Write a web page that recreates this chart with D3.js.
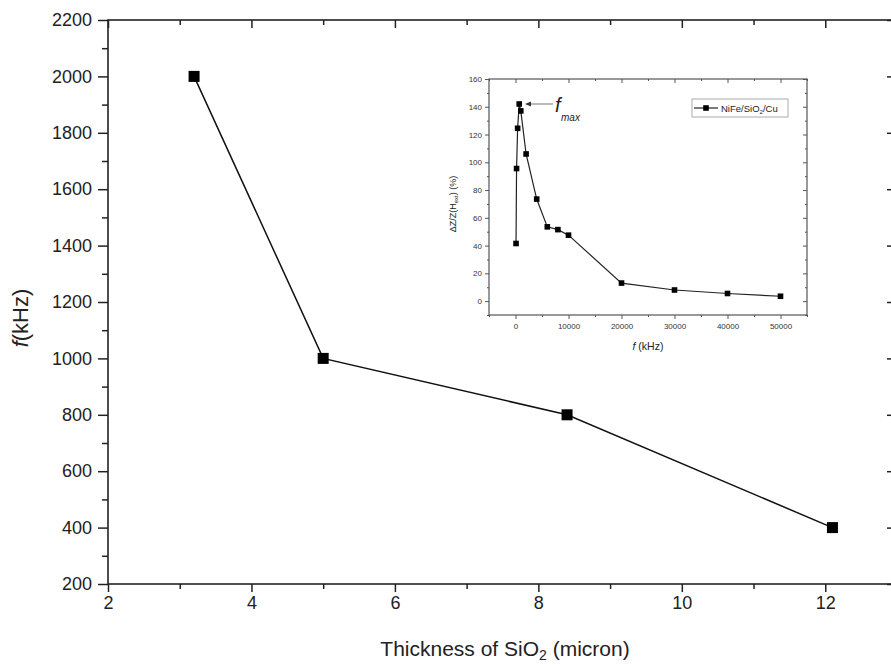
<html>
<head>
  <script src="https://d3js.org/d3.v7.min.js"></script>
  <style>
    body { margin: 0; background: #fff; }
    text { font-family: "Liberation Sans", Arial, sans-serif; fill: #222; }
  </style>
</head>
<body>
<svg width="891" height="665"></svg>
<script>
  // main chart data
  var thickness = [3.2, 5, 8.4, 12.1];
  var freqMax = [2000, 1000, 800, 400];
  var xMajor = [2, 4, 6, 8, 10, 12];
  var xMinor = [3, 5, 7, 9, 11, 13];
  var yMajor = [200, 400, 600, 800, 1000, 1200, 1400, 1600, 1800, 2000, 2200];
  var yMinor = [300, 500, 700, 900, 1100, 1300, 1500, 1700, 1900, 2100];

  // inset data
  var insetFreq = [100, 200, 400, 700, 1000, 2000, 4000, 6000, 8000, 10000, 20000, 30000, 40000, 50000];
  var insetDZ = [41.5, 95.5, 124.5, 142, 137, 106, 73.5, 53.5, 51.5, 47.5, 13, 8, 5.5, 3.5];
  var insetXMajor = [0, 10000, 20000, 30000, 40000, 50000];
  var insetXMinor = [-5000, 5000, 15000, 25000, 35000, 45000, 55000];
  var insetYMajor = [0, 20, 40, 60, 80, 100, 120, 140, 160];
  var insetYMinor = [-10, 10, 30, 50, 70, 90, 110, 130, 150];

  var svg = d3.select("svg");
  var axisColor = "#222";

  var x = d3.scaleLinear().domain([2, 13]).range([108, 897]);
  var y = d3.scaleLinear().domain([200, 2200]).range([584, 20]);

  function styleAxis(g) {
    g.select(".domain").remove();
    g.selectAll("line").attr("stroke", axisColor).attr("stroke-width", 1.5);
    g.selectAll("text").attr("font-size", 18);
  }

  // bottom axis
  svg.append("g").attr("transform", "translate(0,584)")
    .call(d3.axisBottom(x).tickValues(xMajor).tickSize(8).tickPadding(4).tickSizeOuter(0))
    .call(styleAxis);
  svg.append("g").attr("transform", "translate(0,584)")
    .call(d3.axisBottom(x).tickValues(xMinor).tickSize(5).tickFormat("").tickSizeOuter(0))
    .call(styleAxis);

  // top axis, ticks pointing in
  svg.append("g").attr("transform", "translate(0,20)")
    .call(d3.axisBottom(x).tickValues(xMajor).tickSize(8).tickFormat("").tickSizeOuter(0))
    .call(styleAxis);
  svg.append("g").attr("transform", "translate(0,20)")
    .call(d3.axisBottom(x).tickValues(xMinor).tickSize(5).tickFormat("").tickSizeOuter(0))
    .call(styleAxis);

  // left axis
  svg.append("g").attr("transform", "translate(108,0)")
    .call(d3.axisLeft(y).tickValues(yMajor).tickSize(10).tickPadding(6).tickFormat(d3.format("d")).tickSizeOuter(0))
    .call(styleAxis);
  svg.append("g").attr("transform", "translate(108,0)")
    .call(d3.axisLeft(y).tickValues(yMinor).tickSize(6).tickFormat("").tickSizeOuter(0))
    .call(styleAxis);

  // right axis, ticks pointing in
  svg.append("g").attr("transform", "translate(897,0)")
    .call(d3.axisLeft(y).tickValues(yMajor).tickSize(10).tickFormat("").tickSizeOuter(0))
    .call(styleAxis);

  // frame
  svg.append("rect").attr("x", 108).attr("y", 20).attr("width", 789).attr("height", 564)
    .attr("fill", "none").attr("stroke", axisColor).attr("stroke-width", 1.6);

  var mainPts = thickness.map(function(d, i) { return [d, freqMax[i]]; });
  var line = d3.line().x(function(d) { return x(d[0]); }).y(function(d) { return y(d[1]); });
  svg.append("path").datum(mainPts).attr("d", line)
    .attr("fill", "none").attr("stroke", "#111").attr("stroke-width", 1.5);
  svg.selectAll(".mainpt").data(mainPts).enter().append("rect")
    .attr("x", function(d) { return x(d[0]) - 5.5; })
    .attr("y", function(d) { return y(d[1]) - 5.5; })
    .attr("width", 11).attr("height", 11).attr("fill", "#000");

  // axis titles
  svg.append("text").attr("x", 505).attr("y", 656).attr("text-anchor", "middle").attr("font-size", 21)
    .html('Thickness of SiO<tspan baseline-shift="-30%" font-size="14">2</tspan> (micron)');
  svg.append("text").attr("transform", "translate(28,318) rotate(-90)").attr("text-anchor", "middle").attr("font-size", 22)
    .html('<tspan font-style="italic">f</tspan>(kHz)');

  // ---------- inset ----------
  var ix = d3.scaleLinear().domain([-5000, 55000]).range([489, 807]);
  var iy = d3.scaleLinear().domain([-10, 160]).range([315, 79]);
  var inset = svg.append("g");
  var ic = "#555";

  function styleInset(g) {
    g.select(".domain").remove();
    g.selectAll("line").attr("stroke", ic).attr("stroke-width", 1);
    g.selectAll("text").attr("font-size", 8).style("fill", "#333");
  }

  inset.append("g").attr("transform", "translate(0,315)")
    .call(d3.axisBottom(ix).tickValues(insetXMajor).tickSize(4).tickPadding(4).tickFormat(d3.format("d")).tickSizeOuter(0)).call(styleInset);
  inset.append("g").attr("transform", "translate(0,315)")
    .call(d3.axisBottom(ix).tickValues(insetXMinor).tickSize(2).tickFormat("").tickSizeOuter(0)).call(styleInset);
  inset.append("g").attr("transform", "translate(0,79)")
    .call(d3.axisBottom(ix).tickValues(insetXMajor).tickSize(4).tickFormat("").tickSizeOuter(0)).call(styleInset);
  inset.append("g").attr("transform", "translate(0,79)")
    .call(d3.axisBottom(ix).tickValues(insetXMinor).tickSize(2).tickFormat("").tickSizeOuter(0)).call(styleInset);
  inset.append("g").attr("transform", "translate(489,0)")
    .call(d3.axisLeft(iy).tickValues(insetYMajor).tickSize(4).tickPadding(3).tickSizeOuter(0)).call(styleInset);
  inset.append("g").attr("transform", "translate(489,0)")
    .call(d3.axisLeft(iy).tickValues(insetYMinor).tickSize(2).tickFormat("").tickSizeOuter(0)).call(styleInset);
  inset.append("g").attr("transform", "translate(807,0)")
    .call(d3.axisRight(iy).tickValues(insetYMajor).tickSize(-4).tickFormat("").tickSizeOuter(0)).call(styleInset);
  inset.append("g").attr("transform", "translate(807,0)")
    .call(d3.axisRight(iy).tickValues(insetYMinor).tickSize(-2).tickFormat("").tickSizeOuter(0)).call(styleInset);

  inset.append("rect").attr("x", 489).attr("y", 79).attr("width", 318).attr("height", 236)
    .attr("fill", "none").attr("stroke", ic).attr("stroke-width", 1.2);

  var insetPts = insetFreq.map(function(d, i) { return [d, insetDZ[i]]; });
  var iline = d3.line().x(function(d) { return ix(d[0]); }).y(function(d) { return iy(d[1]); });
  inset.append("path").datum(insetPts).attr("d", iline)
    .attr("fill", "none").attr("stroke", "#222").attr("stroke-width", 1.2);
  inset.selectAll(".ipt").data(insetPts).enter().append("rect")
    .attr("x", function(d) { return ix(d[0]) - 2.8; })
    .attr("y", function(d) { return iy(d[1]) - 2.8; })
    .attr("width", 5.6).attr("height", 5.6).attr("fill", "#000");

  // f_max annotation
  inset.append("line").attr("x1", 553).attr("x2", 530).attr("y1", 104).attr("y2", 104)
    .attr("stroke", "#777").attr("stroke-width", 1);
  inset.append("path").attr("d", "M525,104 L531,101.5 L531,106.5 Z").attr("fill", "#333");
  inset.append("text").attr("x", 555).attr("y", 112).attr("font-size", 20).attr("font-style", "italic").text("f");
  inset.append("text").attr("x", 561).attr("y", 121).attr("font-size", 10).attr("font-style", "italic").text("max");

  // legend
  inset.append("rect").attr("x", 692).attr("y", 99).attr("width", 96).attr("height", 18)
    .attr("fill", "#fff").attr("stroke", "#aaa").attr("stroke-width", 1);
  inset.append("line").attr("x1", 694).attr("x2", 718).attr("y1", 108).attr("y2", 108).attr("stroke", "#222").attr("stroke-width", 1.2);
  inset.append("rect").attr("x", 703.2).attr("y", 105.2).attr("width", 5.6).attr("height", 5.6).attr("fill", "#000");
  inset.append("text").attr("x", 721).attr("y", 111.5).attr("font-size", 9.5)
    .html('NiFe/SiO<tspan baseline-shift="-30%" font-size="6">2</tspan>/Cu');

  // inset axis titles
  inset.append("text").attr("x", 648).attr("y", 350).attr("text-anchor", "middle").attr("font-size", 10.5)
    .html('<tspan font-style="italic">f</tspan> (kHz)');
  inset.append("text").attr("transform", "translate(456,204) rotate(-90)").attr("text-anchor", "middle").attr("font-size", 9)
    .html('\u0394Z/Z(H<tspan baseline-shift="-30%" font-size="6">ext</tspan>) (%)');
</script>
</body>
</html>
